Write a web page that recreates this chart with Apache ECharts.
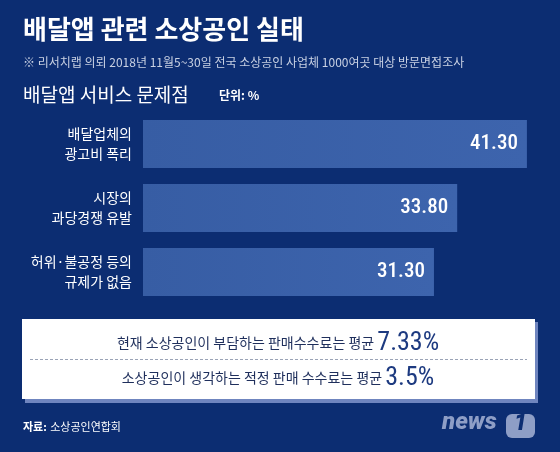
<!DOCTYPE html>
<html>
<head>
<meta charset="utf-8">
<script src="https://cdn.jsdelivr.net/npm/echarts@6/dist/echarts.min.js"></script>
<style>
  html, body { margin: 0; padding: 0; background: #0c2d72; }
  #chart { width: 560px; height: 452px; }
</style>
</head>
<body>
<div id="chart"></div>
<script>
// 배달앱 서비스 문제점 (단위: %)
const categories = ['배달업체의\n광고비 폭리', '시장의\n과당경쟁 유발', '허위·불공정 등의\n규제가 없음']
const values = [41.3, 33.8, 31.3]
// 판매수수료 평균 (%)
const feeCurrent = 7.33
const feeProper = 3.5

const KR = "'Noto Sans CJK KR', sans-serif"
const NUM = "'Liberation Sans Narrow', 'Roboto Condensed', Roboto, sans-serif"

const chart = echarts.init(document.getElementById('chart'))

const option = {
  backgroundColor: '#0c2d72',
  animation: false,
  grid: { left: 143, right: 8, top: 112, bottom: 148 },
  xAxis: {
    type: 'value',
    min: 0,
    max: 44,
    show: false
  },
  yAxis: {
    type: 'category',
    inverse: true,
    data: categories,
    axisLine: { show: false },
    axisTick: { show: false },
    axisLabel: {
      margin: 11,
      color: '#ffffff',
      fontFamily: KR,
      fontSize: 14,
      lineHeight: 20,
      align: 'right'
    }
  },
  series: [
    {
      type: 'bar',
      data: values,
      barWidth: 48,
      itemStyle: {
        color: new echarts.graphic.LinearGradient(0, 0, 1, 0, [
          { offset: 0, color: '#375da4' },
          { offset: 1, color: '#3d64ad' }
        ])
      },
      label: {
        show: true,
        position: 'insideRight',
        distance: 9,
        color: '#ffffff',
        fontFamily: NUM,
        fontSize: 21,
        fontWeight: 500,
        formatter: function(p) {
          return p.value.toFixed(2)
        }
      }
    }
  ],
  graphic: [
    {
      type: 'text', left: 23, top: 16,
      style: { text: '배달앱 관련 소상공인 실태', fill: '#ffffff', font: 'bold 26px ' + KR }
    },
    {
      type: 'text', left: 23, top: 56,
      style: {
        text: '※ 리서치랩 의뢰 2018년 11월5~30일 전국 소상공인 사업체 1000여곳 대상 방문면접조사',
        fill: '#c9d1e3', font: '12px ' + KR
      }
    },
    {
      type: 'text', left: 23, top: 85,
      style: { text: '배달앱 서비스 문제점', fill: '#ffffff', font: '19px ' + KR }
    },
    {
      type: 'text', left: 219, top: 89,
      style: { text: '단위: %', fill: '#ffffff', font: 'bold 12px ' + KR }
    },
    // 요약 박스
    {
      type: 'rect', z: 10,
      shape: { x: 25, y: 322, width: 513, height: 81 },
      style: { fill: '#6f85bf' }
    },
    {
      type: 'rect', z: 11,
      shape: { x: 22, y: 319, width: 513, height: 80 },
      style: { fill: '#ffffff' }
    },
    {
      type: 'line', z: 12,
      shape: { x1: 30, y1: 359.5, x2: 527, y2: 359.5 },
      style: { stroke: '#9aa3b6', lineWidth: 1, lineDash: [3, 2] }
    },
    {
      type: 'text', z: 12, x: 278, y: 343,
      style: {
        text: '{a|현재 소상공인이 부담하는 판매수수료는 평균 }{b|' + feeCurrent + '%}',
        align: 'center', verticalAlign: 'middle',
        rich: {
          a: { fill: '#1f2f5c', font: '14px ' + KR },
          b: { fill: '#1d3a80', font: '26px ' + NUM }
        }
      }
    },
    {
      type: 'text', z: 12, x: 278, y: 378,
      style: {
        text: '{a|소상공인이 생각하는 적정 판매 수수료는 평균 }{b|' + feeProper + '%}',
        align: 'center', verticalAlign: 'middle',
        rich: {
          a: { fill: '#1f2f5c', font: '14px ' + KR },
          b: { fill: '#1d3a80', font: '26px ' + NUM }
        }
      }
    },
    // 출처
    {
      type: 'text', left: 23, top: 421,
      style: {
        text: '{b|자료:} {a|소상공인연합회}',
        rich: {
          a: { fill: '#ffffff', font: '11px ' + KR },
          b: { fill: '#ffffff', font: 'bold 11px ' + KR }
        }
      }
    },
    // news1 로고
    {
      type: 'text', left: 442, top: 411,
      style: { text: 'news', fill: '#8e9ec6', font: 'italic 900 24px Roboto, sans-serif' }
    },
    {
      type: 'rect',
      shape: { x: 506, y: 414, width: 29, height: 24, r: 6 },
      style: { fill: '#8e9ec6' }
    },
    {
      type: 'text', left: 514, top: 413,
      style: { text: '1', fill: '#0c2d72', font: 'italic 900 23px Roboto, sans-serif' }
    }
  ]
}

chart.setOption(option)
</script>
</body>
</html>
